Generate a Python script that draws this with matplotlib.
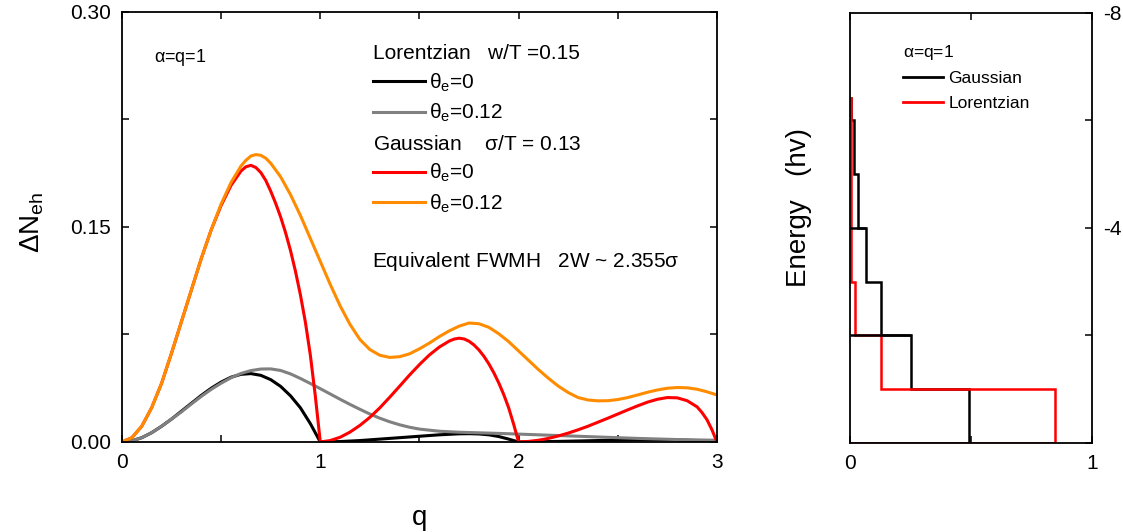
import numpy as np
import matplotlib
matplotlib.use('Agg')
import matplotlib.pyplot as plt
from matplotlib.lines import Line2D

plt.rcParams['font.family'] = ['Liberation Sans', 'DejaVu Sans']
plt.rcParams['mathtext.fontset'] = 'custom'
plt.rcParams['mathtext.rm'] = 'Liberation Sans'
plt.rcParams['mathtext.it'] = 'Liberation Sans'

# ---- left panel: Delta N_eh vs q ------------------------------------------
q_lor0 = [0, 0.05, 0.1, 0.15, 0.2, 0.25, 0.3, 0.35, 0.4, 0.45, 0.5, 0.55,
          0.6, 0.65, 0.7, 0.75, 0.8, 0.85, 0.9, 0.95, 1.0,
          1.1, 1.2, 1.3, 1.4, 1.5, 1.6, 1.7, 1.75, 1.8, 1.85, 1.9, 1.95, 2.0,
          2.2, 2.4, 2.6, 2.75, 2.9, 3.0]
n_lor0 = [0, 0.0008, 0.003, 0.0065, 0.011, 0.016, 0.0215, 0.027, 0.0325,
          0.0375, 0.0418, 0.0452, 0.0472, 0.0477, 0.0465, 0.0435, 0.0388,
          0.0322, 0.0238, 0.0128, 0,
          0.0003, 0.001, 0.002, 0.003, 0.004, 0.005, 0.0057, 0.0058, 0.0056,
          0.005, 0.0038, 0.002, 0,
          0.0004, 0.001, 0.0015, 0.0016, 0.001, 0]

q_lor12 = [0, 0.05, 0.1, 0.15, 0.2, 0.25, 0.3, 0.35, 0.4, 0.45, 0.5, 0.55,
           0.6, 0.65, 0.7, 0.75, 0.8, 0.85, 0.9, 0.95, 1.0, 1.05, 1.1, 1.15,
           1.2, 1.25, 1.3, 1.35, 1.4, 1.45, 1.5, 1.6, 1.7, 1.8, 1.9, 2.0,
           2.2, 2.4, 2.6, 2.8, 3.0]
n_lor12 = [0, 0.0008, 0.003, 0.0065, 0.011, 0.016, 0.021, 0.0265, 0.0318,
           0.0367, 0.041, 0.0448, 0.0478, 0.0498, 0.0509, 0.051, 0.0499,
           0.0475, 0.0443, 0.0408, 0.0372, 0.0335, 0.0298, 0.0262, 0.0228,
           0.0195, 0.0166, 0.0141, 0.012, 0.0103, 0.009, 0.0075, 0.0068,
           0.0064, 0.006, 0.0055, 0.0045, 0.0035, 0.0025, 0.0017, 0.0012]

q_gau0 = [0, 0.05, 0.1, 0.15, 0.2, 0.25, 0.3, 0.35, 0.4, 0.45, 0.5, 0.55,
          0.6, 0.625, 0.65, 0.675, 0.7, 0.725, 0.75, 0.775, 0.8, 0.825, 0.85,
          0.875, 0.9, 0.925, 0.95, 0.975, 1.0,
          1.05, 1.1, 1.15, 1.2, 1.25, 1.3, 1.35, 1.4, 1.45, 1.5, 1.55, 1.6,
          1.65, 1.675, 1.7, 1.725, 1.75, 1.775, 1.8, 1.825, 1.85, 1.875, 1.9,
          1.925, 1.95, 1.975, 2.0,
          2.05, 2.1, 2.15, 2.2, 2.25, 2.3, 2.35, 2.4, 2.45, 2.5, 2.55, 2.6,
          2.65, 2.7, 2.75, 2.8, 2.85, 2.9, 2.925, 2.95, 2.975, 3.0]
n_gau0 = [0, 0.003, 0.011, 0.024, 0.041, 0.062, 0.084, 0.106, 0.128, 0.148,
          0.165, 0.179, 0.189, 0.192, 0.193, 0.1915, 0.188, 0.1825, 0.175,
          0.1665, 0.157, 0.146, 0.1335, 0.119, 0.1025, 0.0835, 0.0605,
          0.032, 0,
          0.001, 0.0033, 0.0069, 0.0116, 0.0172, 0.0238, 0.0312, 0.0389,
          0.0467, 0.054, 0.0607, 0.0662, 0.0704, 0.0718, 0.0724, 0.0719,
          0.0703, 0.0677, 0.0642, 0.0598, 0.0545, 0.0483, 0.0412, 0.0331,
          0.0238, 0.0124, 0,
          0.0004, 0.0012, 0.0025, 0.0042, 0.0062, 0.0085, 0.011, 0.0138,
          0.0166, 0.0195, 0.0224, 0.0252, 0.0278, 0.0298, 0.031, 0.0308,
          0.0288, 0.0245, 0.0205, 0.0155, 0.0085, 0]

q_gau12 = [0, 0.05, 0.1, 0.15, 0.2, 0.25, 0.3, 0.35, 0.4, 0.45, 0.5, 0.55,
           0.6, 0.625, 0.65, 0.675, 0.7, 0.725, 0.75, 0.8, 0.85, 0.9, 0.95,
           1.0, 1.05, 1.1, 1.15, 1.2, 1.25, 1.3, 1.35, 1.4, 1.45, 1.5, 1.55,
           1.6, 1.65, 1.7, 1.75, 1.8, 1.85, 1.9, 1.95, 2.0, 2.05, 2.1, 2.15,
           2.2, 2.25, 2.3, 2.35, 2.4, 2.45, 2.5, 2.55, 2.6, 2.65, 2.7, 2.75,
           2.8, 2.85, 2.9, 2.95, 3.0]
n_gau12 = [0, 0.003, 0.011, 0.024, 0.041, 0.062, 0.084, 0.106, 0.128, 0.148,
           0.166, 0.181, 0.1925, 0.1965, 0.1995, 0.2005, 0.2, 0.198, 0.1945,
           0.185, 0.1725, 0.158, 0.142, 0.126, 0.11, 0.095, 0.082, 0.0715,
           0.0645, 0.0605, 0.059, 0.0595, 0.0615, 0.065, 0.069, 0.0735,
           0.0775, 0.0808, 0.083, 0.0825, 0.08, 0.0755, 0.07, 0.0635, 0.057,
           0.0505, 0.0445, 0.039, 0.0345, 0.031, 0.0293, 0.0287, 0.0288,
           0.0296, 0.031, 0.0328, 0.0347, 0.0363, 0.0375, 0.038, 0.0378,
           0.0368, 0.035, 0.0328]

# ---- right panel: level weights vs energy ---------------------------------
e_edges = [-6.42, -6, -5, -4, -3, -2, -1, 0]       # energy (hv)
w_gauss = [0.004, 0.017, 0.034, 0.066, 0.128, 0.252, 0.49]
w_lor = [0.003, 0.003, 0.003, 0.003, 0.021, 0.128, 0.848]
gauss_ticks_e = [-4, -2]          # black rungs drawn back to the axis
gauss_ticks_w = [0.066, 0.252]

fig = plt.figure(figsize=(11.23, 5.32), dpi=100)
ax1 = fig.add_axes([0.1086, 0.1692, 0.5298, 0.8083])
ax2 = fig.add_axes([0.7569, 0.1673, 0.2155, 0.8083])

lw = 2.2
l1, = ax1.plot(q_lor0, n_lor0, color='black', lw=lw)
l2, = ax1.plot(q_lor12, n_lor12, color='#808080', lw=lw)
l3, = ax1.plot(q_gau0, n_gau0, color='#ff0000', lw=lw)
l4, = ax1.plot(q_gau12, n_gau12, color='#ff8c00', lw=lw)

ax1.set_xlim(0, 3)
ax1.set_ylim(0, 0.30)
ax1.set_xticks(np.arange(0, 3.01, 0.5))
ax1.set_xticklabels(['0', '', '1', '', '2', '', '3'])
ax1.set_yticks(np.arange(0, 0.301, 0.075))
ax1.set_yticklabels(['0.00', '', '0.15', '', '0.30'])
ax1.tick_params(direction='in', top=True, right=True, length=5, width=1.1,
                labelsize=15, pad=8)
for s in ax1.spines.values():
    s.set_linewidth(1.3)
ax1.set_xlabel('q', fontsize=20, labelpad=24)
ax1.set_ylabel(r'$\Delta$N$_\mathregular{eh}$', fontsize=20)
ax1.yaxis.set_label_coords(-0.128, 0.51)

ax1.text(0.054, 0.893, r'$\alpha$=q=1', transform=ax1.transAxes, fontsize=13,
         va='center')
leg_kw = dict(loc='upper left', frameon=False, fontsize=15, title_fontsize=15,
              alignment='left', handlelength=2.5, handletextpad=0.2,
              labelspacing=0.4, borderaxespad=0, borderpad=0)
leg1 = ax1.legend([l1, l2], [r'$\theta_\mathregular{e}$=0',
                             r'$\theta_\mathregular{e}$=0.12'],
                  title='Lorentzian   w/T =0.15',
                  bbox_to_anchor=(0.422, 0.925), **leg_kw)
ax1.add_artist(leg1)
ax1.legend([l3, l4], [r'$\theta_\mathregular{e}$=0',
                      r'$\theta_\mathregular{e}$=0.12'],
           title=r'Gaussian    $\sigma$/T = 0.13',
           bbox_to_anchor=(0.422, 0.715), **leg_kw)
ax1.text(0.421, 0.42, r'Equivalent FWMH   2W ~ 2.355$\sigma$',
         transform=ax1.transAxes, fontsize=15, va='center')

# right panel: step outlines
ax2.stairs(w_gauss, e_edges, orientation='horizontal', baseline=0,
           color='black', lw=1.8)
ax2.hlines(gauss_ticks_e, 0, gauss_ticks_w, color='black', lw=1.8)
ax2.stairs(w_lor, e_edges, orientation='horizontal', baseline=0,
           color='#ff0000', lw=1.8)
ax2.set_xlim(0, 1)
ax2.set_ylim(0, -8)
ax2.set_xticks([0, 0.5, 1])
ax2.set_xticklabels(['0', '', '1'])
ax2.set_yticks([0, -2, -4, -6, -8])
ax2.set_yticklabels(['', '', '-4', '', '-8'])
ax2.yaxis.tick_right()
ax2.tick_params(direction='in', top=True, length=5, width=1.1, labelsize=15,
                pad=8)
for s in ax2.spines.values():
    s.set_linewidth(1.3)
ax2.set_ylabel('Energy   (hv)', fontsize=20)
ax2.yaxis.set_label_position('left')
ax2.yaxis.set_label_coords(-0.157, 0.547)

hg = Line2D([], [], color='black', lw=2)
hl = Line2D([], [], color='#ff0000', lw=2)
ax2.legend([hg, hl], ['Gaussian', 'Lorentzian'], title=r'$\alpha$=q=1',
           loc='upper left', bbox_to_anchor=(0.22, 0.93), frameon=False,
           fontsize=12.5, title_fontsize=12.5, alignment='left',
           handlelength=2.3, handletextpad=0.3, labelspacing=0.53,
           borderaxespad=0, borderpad=0)

fig.savefig('out.png', dpi=100)
